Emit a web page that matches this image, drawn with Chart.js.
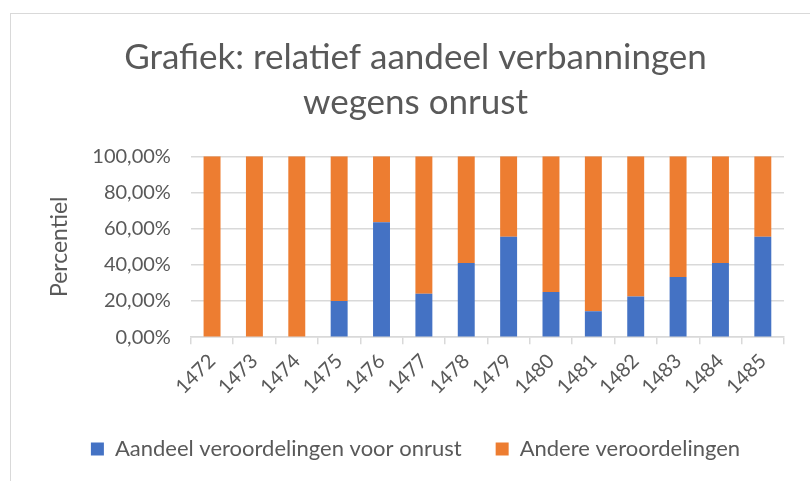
<!DOCTYPE html>
<html>
<head>
<meta charset="utf-8">
<script src="https://cdn.jsdelivr.net/npm/chart.js@4"></script>
<style>
  body { margin: 0; background: #fff; }
  #wrap { position: relative; width: 810px; height: 481px; overflow: hidden; }
  #frame { position: absolute; left: 10px; top: 13px; width: 830px; height: 500px; border: 1px solid #d9d9d9; }
  canvas { position: absolute; left: 0; top: 0; }
</style>
</head>
<body>
<div id="wrap">
  <div id="frame"></div>
  <canvas id="myChart" width="810" height="481"></canvas>
</div>
<script>
// jaren
const years = ['1472', '1473', '1474', '1475', '1476', '1477', '1478', '1479', '1480', '1481', '1482', '1483', '1484', '1485'];
// aandeel voor onrust (%)
const onrust = [0, 0, 0, 20, 63.6, 24, 41, 55.5, 25, 14.3, 22.5, 33.3, 41, 55.5];
// andere veroordelingen (%)
const andere = [100, 100, 100, 80, 36.4, 76, 59, 44.5, 75, 85.7, 77.5, 66.7, 59, 44.5];
const yTicks = [0, 20, 40, 60, 80, 100];

const grey = '#595959';
const font = 'Lato';

const ctx = document.getElementById('myChart').getContext('2d');
const myChart = new Chart(ctx, {
  type: 'bar',
  data: {
    labels: years,
    datasets: [
      {
        label: 'Aandeel veroordelingen voor onrust',
        data: onrust,
        backgroundColor: '#4472c4'
      },
      {
        label: 'Andere veroordelingen',
        data: andere,
        backgroundColor: '#ed7d31'
      }
    ]
  },
  options: {
    responsive: false,
    animation: false,
    datasets: { bar: { barPercentage: 0.4, categoryPercentage: 1 } },
    layout: { padding: { left: 47, right: 26, top: 35, bottom: 11 } },
    plugins: {
      title: {
        display: true,
        text: ['Grafiek: relatief aandeel verbanningen', 'wegens onrust'],
        color: grey,
        font: { family: font, size: 35, weight: 'normal', lineHeight: 1.29 },
        padding: { top: 0, bottom: 31 }
      },
      legend: {
        position: 'bottom',
        labels: {
          color: grey,
          font: { family: font, size: 22 },
          boxWidth: 13,
          boxHeight: 13,
          padding: 34
        }
      },
      tooltip: { enabled: false }
    },
    scales: {
      x: {
        stacked: true,
        grid: { drawOnChartArea: false, drawTicks: true, tickLength: 7, color: '#d9d9d9', lineWidth: 1.5 },
        border: { color: '#d9d9d9', width: 1.5 },
        ticks: {
          color: grey,
          font: { family: font, size: 20 },
          maxRotation: 45,
          minRotation: 45,
          padding: 5
        }
      },
      y: {
        stacked: true,
        min: 0,
        max: 100,
        afterBuildTicks: axis => { axis.ticks = yTicks.map(v => ({ value: v })); },
        grid: { color: '#d9d9d9', lineWidth: 1.5, drawTicks: false },
        border: { display: false },
        ticks: {
          color: grey,
          font: { family: font, size: 20 },
          padding: 20,
          autoSkip: false,
          callback: v => v.toFixed(2).replace('.', ',') + '%'
        },
        title: {
          display: true,
          text: 'Percentiel',
          color: grey,
          font: { family: font, size: 23, lineHeight: 1.1 },
          padding: { top: 0, bottom: 0 }
        }
      }
    }
  }
});
</script>
</body>
</html>
